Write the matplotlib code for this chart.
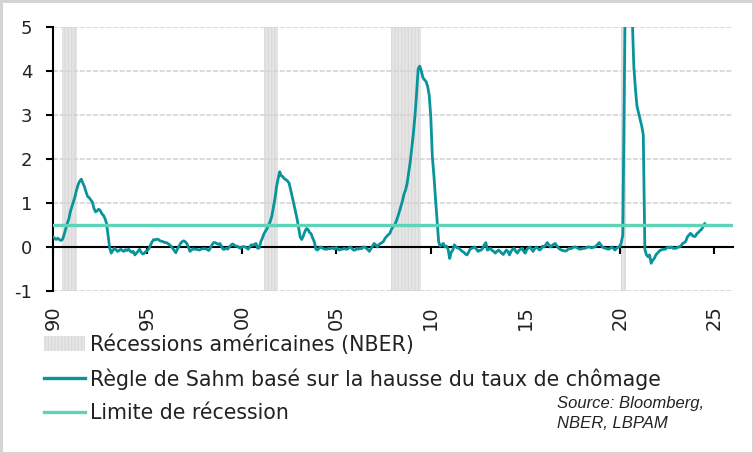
"""Sahm rule vs recession limit, with US recessions shaded."""
import matplotlib.pyplot as plt
import numpy as np
import pandas as pd
from matplotlib.lines import Line2D
from matplotlib.patches import Patch

# Monthly Sahm rule values, Jan 1990 -> Jul 2024
sahm_1990s = [
    0.23, 0.20, 0.17, 0.20, 0.17, 0.15, 0.17, 0.27, 0.40, 0.53, 0.63, 0.80,  # 1990
    0.92, 1.03, 1.15, 1.30, 1.42, 1.50, 1.54, 1.45, 1.37, 1.25, 1.15, 1.12,  # 1991
    1.07, 1.02, 0.88, 0.80, 0.82, 0.86, 0.83, 0.76, 0.72, 0.65, 0.54, 0.25,  # 1992
    -0.02, -0.14, -0.08, -0.03, -0.06, -0.10, -0.08, -0.05, -0.08, -0.10, -0.06, -0.08,  # 1993
    -0.05, -0.09, -0.12, -0.10, -0.18, -0.14, -0.10, -0.05, -0.12, -0.16, -0.14, -0.10,  # 1994
    -0.08, -0.03, 0.05, 0.12, 0.17, 0.16, 0.18, 0.17, 0.14, 0.13, 0.12, 0.10,  # 1995
    0.10, 0.08, 0.05, 0.02, -0.03, -0.08, -0.13, -0.05, 0.01, 0.08, 0.12, 0.14,  # 1996
    0.12, 0.08, 0.00, -0.10, -0.07, -0.04, -0.05, -0.05, -0.06, -0.07, -0.05, -0.04,  # 1997
    -0.04, -0.04, -0.06, -0.08, -0.02, 0.05, 0.10, 0.10, 0.08, 0.06, 0.08, 0.02,  # 1998
    -0.05, -0.05, -0.03, -0.05, 0.00, 0.04, 0.07, 0.05, 0.02, 0.02, -0.01, -0.03,  # 1999
]
sahm_2000s = [
    0.00, 0.01, 0.00, -0.02, -0.05, 0.00, 0.05, 0.04, 0.06, 0.08, -0.03, -0.02,  # 2000
    0.12, 0.20, 0.30, 0.36, 0.42, 0.50, 0.58, 0.70, 0.90, 1.10, 1.37, 1.55,  # 2001
    1.71, 1.62, 1.60, 1.55, 1.53, 1.50, 1.45, 1.30, 1.14, 0.98, 0.82, 0.65,  # 2002
    0.45, 0.23, 0.17, 0.25, 0.35, 0.42, 0.40, 0.33, 0.30, 0.20, 0.12, -0.05,  # 2003
    -0.07, -0.03, 0.00, -0.02, -0.04, -0.05, -0.05, -0.03, -0.04, -0.03, -0.02, -0.05,  # 2004
    -0.01, -0.05, -0.07, -0.05, -0.05, -0.03, -0.05, -0.05, -0.02, 0.00, -0.04, -0.07,  # 2005
    -0.07, -0.03, -0.05, -0.03, -0.04, 0.00, 0.00, -0.03, -0.06, -0.10, -0.04, 0.02,  # 2006
    0.08, 0.05, 0.00, 0.05, 0.08, 0.10, 0.13, 0.20, 0.24, 0.28, 0.31, 0.40,  # 2007
    0.46, 0.50, 0.58, 0.68, 0.80, 0.92, 1.05, 1.20, 1.30, 1.45, 1.70, 1.95,  # 2008
    2.28, 2.60, 3.00, 3.50, 4.05, 4.11, 4.00, 3.85, 3.80, 3.76, 3.65, 3.45,  # 2009
]
sahm_2010s = [
    2.96, 2.05, 1.62, 1.10, 0.62, 0.12, 0.02, 0.05, 0.08, 0.00, 0.02, -0.05,  # 2010
    -0.26, -0.12, -0.07, 0.05, 0.00, -0.02, -0.03, -0.07, -0.10, -0.12, -0.16, -0.18,  # 2011
    -0.12, -0.05, -0.03, -0.02, 0.00, -0.05, -0.10, -0.08, -0.07, -0.03, 0.05, 0.10,  # 2012
    -0.07, -0.05, -0.03, -0.08, -0.10, -0.14, -0.10, -0.07, -0.10, -0.14, -0.17, -0.12,  # 2013
    -0.07, -0.10, -0.18, -0.10, -0.05, -0.03, -0.10, -0.14, -0.08, -0.05, -0.03, -0.10,  # 2014
    -0.14, -0.06, -0.02, 0.00, -0.05, -0.10, -0.04, 0.00, -0.03, -0.07, -0.05, 0.02,  # 2015
    0.00, 0.05, 0.10, 0.05, 0.00, 0.03, 0.06, 0.08, 0.03, -0.02, -0.05, -0.07,  # 2016
    -0.08, -0.09, -0.09, -0.06, -0.03, -0.04, -0.02, 0.00, 0.00, -0.02, -0.04, -0.05,  # 2017
    -0.04, -0.03, -0.03, -0.01, 0.00, 0.00, -0.02, -0.01, 0.00, 0.02, 0.06, 0.10,  # 2018
    0.05, 0.00, -0.02, -0.03, -0.04, -0.05, -0.03, 0.00, -0.03, -0.07, -0.03, 0.00,  # 2019
]
sahm_2020s = [
    0.00, 0.10, 0.27, 3.90, 7.20, 9.40, 7.90, 6.30, 5.20, 4.10, 3.60, 3.20,  # 2020
    3.05, 2.90, 2.75, 2.55, -0.05, -0.18, -0.22, -0.18, -0.37, -0.30, -0.26, -0.18,  # 2021
    -0.14, -0.10, -0.07, -0.06, -0.05, -0.05, -0.02, 0.00, -0.02, 0.00, -0.03, -0.03,  # 2022
    -0.03, 0.00, 0.00, 0.03, 0.08, 0.10, 0.13, 0.23, 0.27, 0.31, 0.27, 0.24,  # 2023
    0.24, 0.30, 0.33, 0.37, 0.40, 0.46, 0.53,  # 2024
]
sahm = sahm_1990s + sahm_2000s + sahm_2010s + sahm_2020s

recession_limit = 0.5

# NBER recessions (decimal years, start of peak month -> end of trough month)
recession_starts = [1990.50, 2001.167, 2007.917, 2020.083]
recession_ends = [1991.25, 2001.917, 2009.50, 2020.333]

year_ticks = [1990, 1995, 2000, 2005, 2010, 2015, 2020, 2025]
year_labels = ['90', '95', '00', '05', '10', '15', '20', '25']

labels = ['Récessions américaines (NBER)',
          'Règle de Sahm basé sur la hausse du taux de chômage',
          'Limite de récession']

# Colours
TEAL = '#08949a'
MINT = '#5dd3b8'
RECESSION_GREY = '#e6e6e6'
HATCH_GREY = '#dadada'

plt.rcParams['font.family'] = ['DejaVu Sans']
plt.rcParams['axes.unicode_minus'] = False

dates = pd.date_range('1990-01-01', periods=len(sahm), freq='MS')
t = dates.year + (dates.month - 1) / 12

fig = plt.figure(figsize=(7.54, 4.54), dpi=100)
fig.patch.set_edgecolor('#d4d4d4')
fig.patch.set_linewidth(2.5)
ax = fig.add_axes([53 / 754, 1 - 291 / 454, 680 / 754, 264 / 454])

# Recession shading
for start, end in zip(recession_starts, recession_ends):
    ax.axvspan(start, end, facecolor=RECESSION_GREY, edgecolor=HATCH_GREY,
               hatch='|||||', linewidth=0, zorder=0.5)

ax.plot(t, sahm, color=TEAL, linewidth=2.0, zorder=3)
ax.axhline(recession_limit, color=MINT, linewidth=2.4, zorder=4)

ax.set_xlim(1990, 2026)
ax.set_ylim(-1, 5)
ax.set_yticks(np.arange(-1, 6, 1))

# Grid
ax.yaxis.grid(True, color='#d4d4d4', linewidth=1.2, linestyle=(0, (3, 1)))
ax.set_axisbelow(True)

# Spines: left axis and zero line in black
for side in ['top', 'right']:
    ax.spines[side].set_visible(False)
ax.spines['left'].set_linewidth(1.5)
ax.spines['bottom'].set_position(('data', 0))
ax.spines['bottom'].set_linewidth(1.5)
ax.spines['bottom'].set_zorder(2.5)

ax.tick_params(axis='y', direction='out', length=5, width=1.5,
               labelsize=13, pad=10, colors='black')
ax.tick_params(axis='y', labelcolor='#222222')
ax.set_xticks(year_ticks)
ax.tick_params(axis='x', direction='out', length=5, width=1.5,
               labelbottom=False)

# Year labels sit at the bottom of the plot area
secax = ax.secondary_xaxis('bottom')
secax.set_xticks(year_ticks, year_labels)
secax.spines['bottom'].set_visible(False)
secax.tick_params(axis='x', length=0, pad=10, labelsize=14,
                  labelrotation=90, labelcolor='#222222')

# Legend below the chart
handles = [Patch(facecolor=RECESSION_GREY, edgecolor=HATCH_GREY,
                 hatch='|||||', linewidth=0),
           Line2D([], [], color=TEAL, linewidth=2.4),
           Line2D([], [], color=MINT, linewidth=2.4)]
fig.legend(handles, labels, loc='upper left',
           bbox_to_anchor=(44 / 754, 1 - 334 / 454), frameon=False,
           fontsize=14.8, handlelength=2.0, handletextpad=0.24,
           labelspacing=0.66, borderpad=0, borderaxespad=0,
           labelcolor='#222222')

fig.text(557 / 754, 1 - 396 / 454, 'Source: Bloomberg,\nNBER, LBPAM',
         fontsize=12, style='italic', family='Liberation Sans',
         color='#222222', va='top', ha='left', linespacing=1.45)

fig.savefig('out.png', dpi=100)
